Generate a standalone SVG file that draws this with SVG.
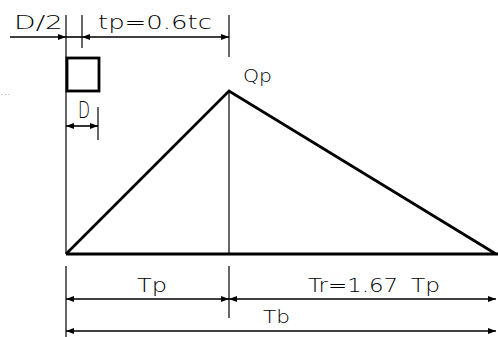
<svg xmlns="http://www.w3.org/2000/svg" width="498" height="337" viewBox="0 0 498 337">
<defs>
<marker id="ah" viewBox="0 0 8 6" refX="8" refY="3" markerWidth="8" markerHeight="6" markerUnits="userSpaceOnUse" orient="auto-start-reverse">
<path d="M0,0 L8,3 L0,6 Z" fill="#000"/>
</marker>
<style>
.thick{stroke:#000;stroke-width:2.8;fill:none;stroke-linejoin:miter}
.thin{stroke:#000;stroke-width:1.2;fill:none}
.dim{stroke:#000;stroke-width:1.6;fill:none}
.lbl{font-family:"DejaVu Sans","Liberation Sans",sans-serif;font-weight:200;fill:#000}
</style>
</defs>
<rect width="498" height="337" fill="#fff"/>
<g id="hydrograph">
<polyline class="thick" points="66,254 229,91 496,254"/>
<line class="thick" x1="66" y1="254" x2="498" y2="254"/>
<line class="thin" x1="229" y1="91" x2="229" y2="254"/>
</g>
<g id="rainfall-block">
<rect class="thick" x="67" y="58" width="32" height="33"/>
</g>
<g id="connectors">
<line class="thin" x1="66" y1="15" x2="66" y2="254"/>
<line class="thin" x1="66" y1="266" x2="66" y2="337"/>
<line class="thin" x1="82" y1="15" x2="82" y2="48"/>
<line class="thin" x1="229" y1="15" x2="229" y2="57"/>
<line class="thin" x1="229" y1="266" x2="229" y2="318"/>
<line class="thin" x1="98" y1="107" x2="98" y2="140"/>
<line class="dim" x1="10" y1="37" x2="66" y2="37" marker-end="url(#ah)"/>
<line class="dim" x1="66" y1="37" x2="82" y2="37"/>
<line class="dim" x1="82" y1="37" x2="229" y2="37" marker-start="url(#ah)" marker-end="url(#ah)"/>
<line class="dim" x1="66" y1="126" x2="98" y2="126" marker-start="url(#ah)" marker-end="url(#ah)"/>
<line class="dim" x1="66" y1="299" x2="229" y2="299" marker-start="url(#ah)" marker-end="url(#ah)"/>
<line class="dim" x1="229" y1="299" x2="496" y2="299" marker-start="url(#ah)" marker-end="url(#ah)"/>
<line class="dim" x1="66" y1="331" x2="496" y2="331" marker-start="url(#ah)" marker-end="url(#ah)"/>
</g>
<g id="labels">
<text class="lbl" x="14" y="29" font-size="20" textLength="49" lengthAdjust="spacingAndGlyphs">D/2</text>
<text class="lbl" x="98" y="29" font-size="19" textLength="114" lengthAdjust="spacingAndGlyphs">tp=0.6tc</text>
<text class="lbl" x="78" y="118" font-size="23" textLength="12" lengthAdjust="spacingAndGlyphs">D</text>
<text class="lbl" x="243" y="82" font-size="17" textLength="29" lengthAdjust="spacingAndGlyphs">Qp</text>
<text class="lbl" x="137" y="292" font-size="20" textLength="30" lengthAdjust="spacingAndGlyphs">Tp</text>
<text class="lbl" x="308" y="292" font-size="20" textLength="90" lengthAdjust="spacingAndGlyphs">Tr=1.67</text>
<text class="lbl" x="411" y="292" font-size="20" textLength="29" lengthAdjust="spacingAndGlyphs">Tp</text>
<text class="lbl" x="263" y="323" font-size="17" textLength="27" lengthAdjust="spacingAndGlyphs">Tb</text>
<text class="lbl" x="0" y="95" font-size="11" fill="#555">...</text>
</g>
</svg>
